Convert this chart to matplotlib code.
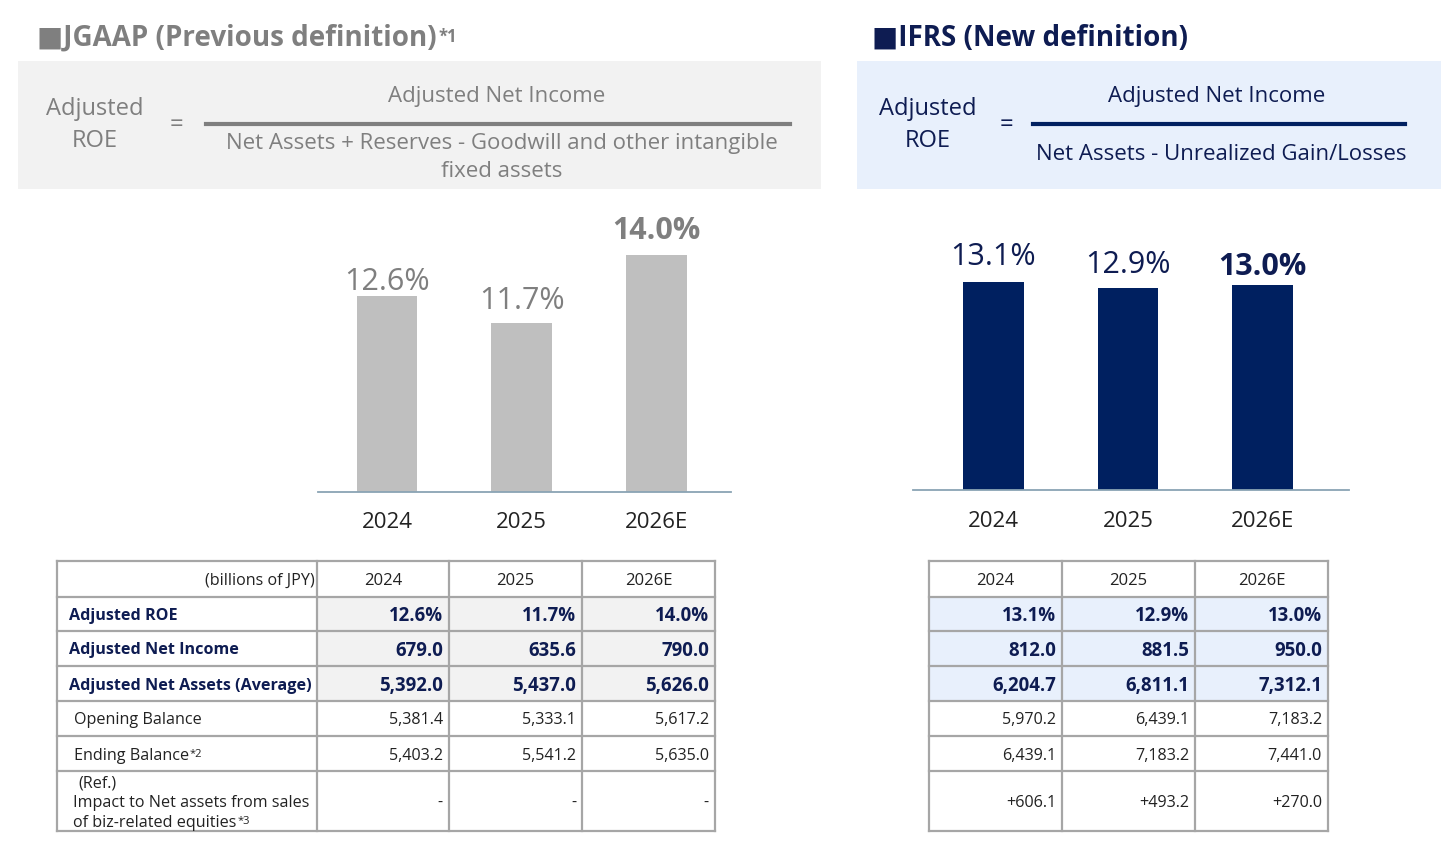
import matplotlib
matplotlib.use("Agg")
import matplotlib.pyplot as plt
from matplotlib.patches import Rectangle

plt.rcParams['font.family'] = ['Open Sans', 'DejaVu Sans']

# ---- data ----
years = ["2024", "2025", "2026E"]
jgaap_roe = [12.6, 11.7, 14.0]
ifrs_roe = [13.1, 12.9, 13.0]

row_labels = ["Adjusted ROE", "Adjusted Net Income", "Adjusted Net Assets (Average)",
              "Opening Balance", "Ending Balance",
              "(Ref.)\nImpact to Net assets from sales\nof biz-related equities"]
row_notes = ["", "", "", "", "*2", "*3"]

jgaap_income = [679.0, 635.6, 790.0]
jgaap_assets = [5392.0, 5437.0, 5626.0]
jgaap_opening = [5381.4, 5333.1, 5617.2]
jgaap_ending = [5403.2, 5541.2, 5635.0]
jgaap_ref = [None, None, None]

ifrs_income = [812.0, 881.5, 950.0]
ifrs_assets = [6204.7, 6811.1, 7312.1]
ifrs_opening = [5970.2, 6439.1, 7183.2]
ifrs_ending = [6439.1, 7183.2, 7441.0]
ifrs_ref = [606.1, 493.2, 270.0]

row_formats = ["{:.1f}%", "{:,.1f}", "{:,.1f}", "{:,.1f}", "{:,.1f}", "{:+,.1f}"]

# ---- colours ----
GRAY_TXT = "#7f7f7f"
GRAY_BOX = "#f2f2f2"
GRAY_BAR = "#bfbfbf"
NAVY = "#002060"
NAVY_TXT = "#0e1c52"
BLUE_BOX = "#e8f0fc"
GRID = "#a6a6a6"
AXLINE = "#8aa4b4"
DARK = "#222222"

W, H = 1456, 850
DY = 2  # Open Sans sits a little high with va="center"
fig = plt.figure(figsize=(W / 100, H / 100), dpi=100)

# full-figure layer in pixel coords (y down)
bg = fig.add_axes([0, 0, 1, 1])
bg.set_xlim(0, W)
bg.set_ylim(H, 0)
bg.axis("off")


def px_axes(left, top, right, bottom):
    return fig.add_axes([left / W, 1 - bottom / H, (right - left) / W, (bottom - top) / H])


# ---- titles ----
t1 = bg.text(37, 36 + DY, "■JGAAP (Previous definition)", fontsize=20, fontweight="bold",
             color=GRAY_TXT, va="center", ha="left")
bg.annotate("*1", xy=(1, 1), xycoords=t1, xytext=(1, -3), textcoords="offset points",
            fontsize=12, fontweight="bold", color=GRAY_TXT, ha="left", va="top")
bg.text(872, 36 + DY, "■IFRS (New definition)", fontsize=20, fontweight="bold",
        color=NAVY_TXT, va="center", ha="left")

# ---- formula boxes ----
bg.add_patch(Rectangle((18, 61), 803, 128, color=GRAY_BOX, lw=0))
bg.add_patch(Rectangle((857, 61), 584, 128, color=BLUE_BOX, lw=0))

fs_f = 16
bg.text(95, 107 + DY, "Adjusted", fontsize=17, color=GRAY_TXT, ha="center", va="center")
bg.text(95, 139 + DY, "ROE", fontsize=17, color=GRAY_TXT, ha="center", va="center")
bg.text(176, 123 + DY, "=", fontsize=17, color=GRAY_TXT, ha="center", va="center")
bg.text(497, 94 + DY, "Adjusted Net Income", fontsize=fs_f, color=GRAY_TXT, ha="center", va="center")
bg.plot([206, 790], [124, 124], color=GRAY_TXT, lw=3)
bg.text(502, 141 + DY, "Net Assets + Reserves - Goodwill and other intangible", fontsize=fs_f,
        color=GRAY_TXT, ha="center", va="center")
bg.text(502, 169 + DY, "fixed assets", fontsize=fs_f, color=GRAY_TXT, ha="center", va="center")

bg.text(928, 107 + DY, "Adjusted", fontsize=17, color=NAVY_TXT, ha="center", va="center")
bg.text(928, 139 + DY, "ROE", fontsize=17, color=NAVY_TXT, ha="center", va="center")
bg.text(1006, 123 + DY, "=", fontsize=17, color=NAVY_TXT, ha="center", va="center")
bg.text(1217, 94 + DY, "Adjusted Net Income", fontsize=fs_f, color=NAVY_TXT, ha="center", va="center")
bg.plot([1033, 1405], [124, 124], color=NAVY, lw=3)
bg.text(1221, 152 + DY, "Net Assets - Unrealized Gain/Losses", fontsize=fs_f, color=NAVY_TXT,
        ha="center", va="center")


# ---- bar charts ----
def bar_panel(ax, values, color, txt_color, ylo, yhi, xlo, xhi, offsets):
    x = list(range(len(values)))
    ax.bar(x, values, width=0.45, color=color)
    ax.set_ylim(ylo, yhi)
    ax.set_xlim(xlo, xhi)
    ax.patch.set_visible(False)
    for s in ["top", "left", "right"]:
        ax.spines[s].set_visible(False)
    ax.spines["bottom"].set_color(AXLINE)
    ax.spines["bottom"].set_linewidth(1.3)
    ax.set_yticks([])
    ax.set_xticks(x, years)
    ax.tick_params(axis="x", length=0, pad=15, labelsize=16, labelcolor=DARK)
    for i, v in enumerate(values):
        last = i == len(values) - 1
        ax.annotate(f"{v:.1f}%", xy=(i, v), xytext=(0, offsets[i]), textcoords="offset points",
                    ha="center", va="baseline", fontsize=22, color=txt_color,
                    fontweight="bold" if last else "normal")


ax1 = px_axes(318, 200, 731, 491.5)
bar_panel(ax1, jgaap_roe, GRAY_BAR, GRAY_TXT, 5.94, 5.94 + 291.5 / 29.3, -0.512, 2.553,
          [4.8, 10, 11.5])
ax2 = px_axes(913, 200, 1349, 490)
bar_panel(ax2, ifrs_roe, NAVY, NAVY_TXT, 6.17, 6.17 + 290 / 30.0, -0.597, 2.643,
          [12.2, 10.8, 7.2])

# ---- tables ----
y_edges = [561, 597, 631, 666, 701, 736, 771, 831]
FS_T = 11.6


def draw_table(x_edges, rows, fill, with_labels):
    nrow = len(rows)
    ncol = len(years)
    num_edges = x_edges[1:] if with_labels else x_edges
    # shaded number cells
    for r in range(3):
        bg.add_patch(Rectangle((num_edges[0], y_edges[r + 1]), num_edges[-1] - num_edges[0],
                               y_edges[r + 2] - y_edges[r + 1], color=fill, lw=0))
    # grid
    for y in y_edges:
        bg.plot([x_edges[0], x_edges[-1]], [y, y], color=GRID, lw=1.6, solid_capstyle="projecting")
    for x in x_edges:
        bg.plot([x, x], [y_edges[0], y_edges[-1]], color=GRID, lw=1.6, solid_capstyle="projecting")
    # header
    yc = (y_edges[0] + y_edges[1]) / 2 + DY
    if with_labels:
        bg.text(x_edges[1] - 2, yc, "(billions of JPY)", fontsize=FS_T, color=DARK,
                ha="right", va="center")
    for c in range(ncol):
        bg.text((num_edges[c] + num_edges[c + 1]) / 2, yc, years[c], fontsize=12, color=DARK,
                ha="center", va="center")
    # body
    for r in range(nrow):
        yc = (y_edges[r + 1] + y_edges[r + 2]) / 2 + DY
        bold = r < 3
        col = NAVY_TXT if bold else DARK
        wt = "bold" if bold else "normal"
        if with_labels:
            lines = row_labels[r].split("\n")
            if len(lines) == 1:
                t = bg.text(x_edges[0] + (12 if bold else 17), yc, lines[0], fontsize=FS_T,
                            color=col, fontweight=wt, ha="left", va="center")
            else:
                for k, ln in enumerate(lines):
                    t = bg.text(x_edges[0] + (21 if k == 0 else 16), yc - 20 + 20 * k, ln,
                                fontsize=FS_T, color=col, fontweight=wt, ha="left", va="center")
            if row_notes[r]:
                bg.annotate(row_notes[r], xy=(1, 1), xycoords=t, xytext=(0.5, -1),
                            textcoords="offset points", fontsize=8, color=col,
                            ha="left", va="top")
        for c in range(ncol):
            v = rows[r][c]
            s = "-" if v is None else row_formats[r].format(v)
            bg.text(num_edges[c + 1] - 6, yc, s, fontsize=13.4 if bold else FS_T, color=col,
                    fontweight=wt, ha="right", va="center")


draw_table([57, 317, 449, 582, 715],
           [jgaap_roe, jgaap_income, jgaap_assets, jgaap_opening, jgaap_ending, jgaap_ref],
           GRAY_BOX, True)
draw_table([929, 1062, 1195, 1328],
           [ifrs_roe, ifrs_income, ifrs_assets, ifrs_opening, ifrs_ending, ifrs_ref],
           BLUE_BOX, False)

fig.savefig("out.png", dpi=100)
